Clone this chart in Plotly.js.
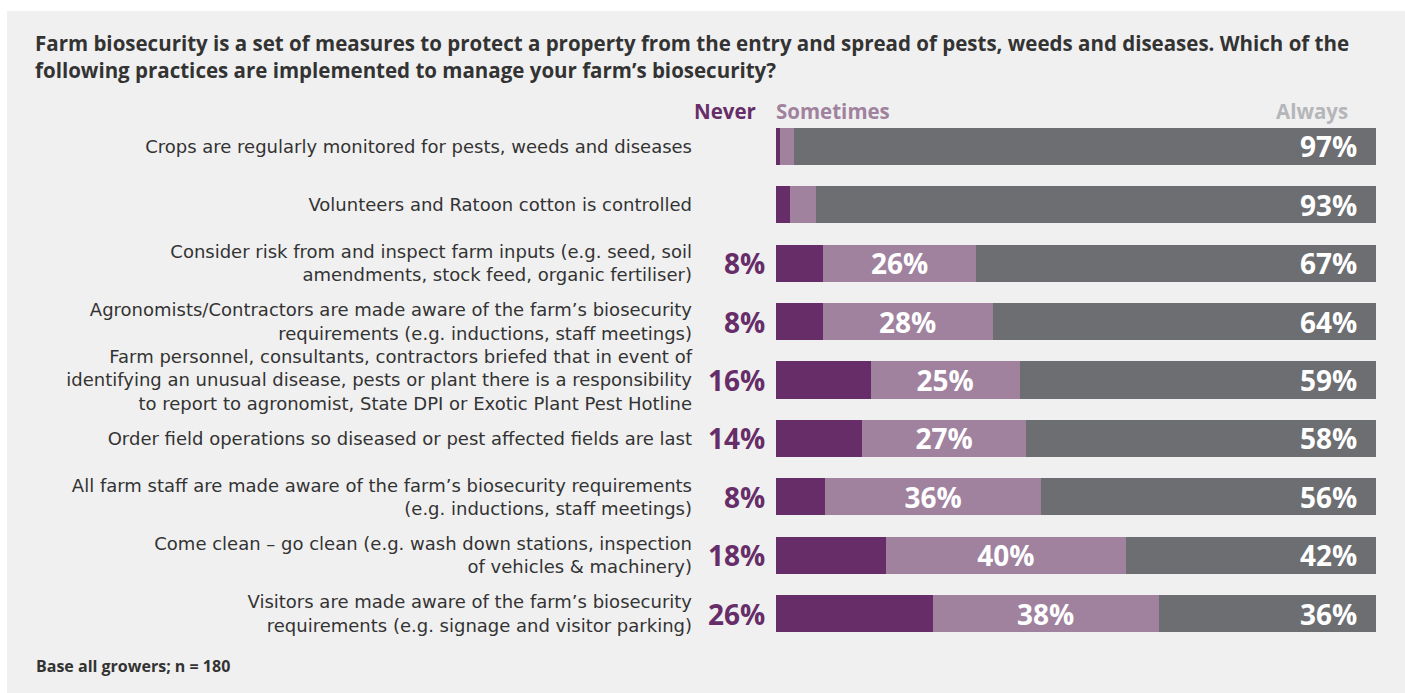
<!DOCTYPE html>
<html>
<head>
<meta charset="utf-8">
<script src="https://cdn.plot.ly/plotly-3.0.1.min.js"></script>
<style>
  html, body { margin: 0; padding: 0; background: #ffffff; }
  #chart { position: absolute; left: 7px; top: 11px; width: 1398px; height: 682px; }
</style>
</head>
<body>
<div id="chart"></div>
<script>
// ---- data ----
const categories = [
  "Crops are regularly monitored for pests, weeds and diseases",
  "Volunteers and Ratoon cotton is controlled",
  "Consider risk from and inspect farm inputs (e.g. seed, soil<br>amendments, stock feed, organic fertiliser)",
  "Agronomists/Contractors are made aware of the farm’s biosecurity<br>requirements (e.g. inductions, staff meetings)",
  "Farm personnel, consultants, contractors briefed that in event of<br>identifying an unusual disease, pests or plant there is a responsibility<br>to report to agronomist, State DPI or Exotic Plant Pest Hotline",
  "Order field operations so diseased or pest affected fields are last",
  "All farm staff are made aware of the farm’s biosecurity requirements<br>(e.g. inductions, staff meetings)",
  "Come clean – go clean (e.g. wash down stations, inspection<br>of vehicles & machinery)",
  "Visitors are made aware of the farm’s biosecurity<br>requirements (e.g. signage and visitor parking)"
];
const never     = [0.7, 2.3, 7.8, 7.8, 15.8, 14.4, 8.2, 18.3, 26.1];
const sometimes = [2.3, 4.4, 25.6, 28.3, 24.8, 27.2, 36.0, 40.0, 37.7];
const always    = [97.0, 93.3, 66.6, 63.9, 59.4, 58.4, 55.8, 41.7, 36.2];
// labels shown only for segments that are large enough
const showNeverLabel     = [false, false, true, true, true, true, true, true, true];
const showSometimesLabel = [false, false, true, true, true, true, true, true, true];
const seriesNames = ["Never", "Sometimes", "Always"];

const colNever = "#662d69", colSome = "#a0829f", colAlways = "#6d6e72", colAlwaysHdr = "#b5b6b9";
const textCol = "#333333";
const FONT = "'Open Sans', 'Liberation Sans', sans-serif";
const TICKFONT = "'DejaVu Sans', 'Open Sans', sans-serif";
const pct = v => Math.round(v) + "%";

const traces = [
  { type: "bar", orientation: "h", name: seriesNames[0], y: categories, x: never,
    marker: { color: colNever }, hoverinfo: "skip", text: never.map(() => ""), textposition: "none" },
  { type: "bar", orientation: "h", name: seriesNames[1], y: categories, x: sometimes,
    marker: { color: colSome }, hoverinfo: "skip",
    text: sometimes.map((v, i) => showSometimesLabel[i] ? pct(v) : ""),
    textposition: "inside", insidetextanchor: "middle", constraintext: "none",
    textfont: { family: FONT, size: 28, color: "#ffffff", weight: 700 } },
  { type: "bar", orientation: "h", name: seriesNames[2], y: categories, x: always,
    marker: { color: colAlways }, hoverinfo: "skip", text: always.map(() => ""), textposition: "none" }
];

const annotations = [];
categories.forEach((c, i) => {
  if (showNeverLabel[i]) {
    annotations.push({ x: 0, y: c, xref: "x", yref: "y", text: pct(never[i]), showarrow: false,
      xanchor: "right", yanchor: "middle", xshift: -9,
      font: { family: FONT, size: 28, color: colNever, weight: 700 } });
  }
  annotations.push({ x: 100, y: c, xref: "x", yref: "y", text: pct(always[i]), showarrow: false,
    xanchor: "right", yanchor: "middle", xshift: -17,
    font: { family: FONT, size: 28, color: "#ffffff", weight: 700 } });
});
// header labels
annotations.push({ x: 0, y: 1, xref: "x", yref: "paper", text: seriesNames[0], showarrow: false,
  xanchor: "right", yanchor: "middle", xshift: -18, yshift: 6,
  font: { family: FONT, size: 20.5, color: colNever, weight: 700 } });
annotations.push({ x: 0, y: 1, xref: "x", yref: "paper", text: seriesNames[1], showarrow: false,
  xanchor: "left", yanchor: "middle", xshift: -2, yshift: 6,
  font: { family: FONT, size: 20.5, color: colSome, weight: 700 } });
annotations.push({ x: 100, y: 1, xref: "x", yref: "paper", text: seriesNames[2], showarrow: false,
  xanchor: "right", yanchor: "middle", xshift: -26, yshift: 6,
  font: { family: FONT, size: 20.5, color: colAlwaysHdr, weight: 700 } });
// footnote (x in plot-area fraction: container x 27px)
annotations.push({ x: (27 - 769) / 600, y: 0, xref: "paper", yref: "paper", text: "Base all growers; n = 180",
  showarrow: false, xanchor: "left", yanchor: "middle", yshift: -23,
  font: { family: FONT, size: 16, color: textCol, weight: 700 } });

const layout = {
  width: 1398, height: 682,
  paper_bgcolor: "#f0f0f0", plot_bgcolor: "#f0f0f0",
  margin: { l: 769, r: 29, t: 106, b: 50 },
  barmode: "stack", bargap: 0.366, showlegend: false,
  title: {
    text: "Farm biosecurity is a set of measures to protect a property from the entry and spread of pests, weeds and diseases. Which of the<br>following practices are implemented to manage your farm’s biosecurity?",
    x: 28 / 1398, xanchor: "left", xref: "container",
    y: 1 - 40 / 682, yanchor: "top", yref: "container",
    font: { family: FONT, size: 20.5, color: textCol, weight: 700 }
  },
  xaxis: { range: [0, 100], visible: false, fixedrange: true },
  yaxis: { type: "category", autorange: "reversed", showgrid: false, zeroline: false, showline: false,
    ticks: "", ticklabelstandoff: 83, fixedrange: true,
    tickfont: { family: TICKFONT, size: 18, color: textCol } },
  annotations: annotations,
  font: { family: FONT, color: textCol }
};

Plotly.newPlot("chart", traces, layout, { displayModeBar: false, staticPlot: true });
</script>
</body>
</html>
